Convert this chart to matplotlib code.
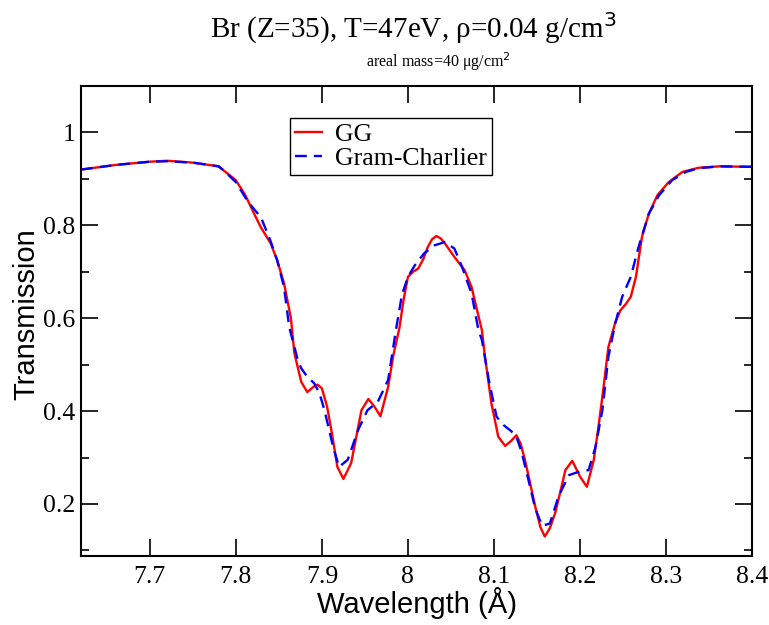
import matplotlib
matplotlib.use("Agg")
import matplotlib.pyplot as plt
from matplotlib.ticker import MultipleLocator

# GG curve
gg_x = [7.62, 7.66, 7.70, 7.72, 7.75, 7.78, 7.786, 7.80, 7.811, 7.821, 7.829,
        7.8405, 7.848, 7.856, 7.864, 7.868, 7.876, 7.883, 7.890, 7.895, 7.900,
        7.906, 7.911, 7.918, 7.925, 7.934, 7.940, 7.946, 7.954, 7.961, 7.968,
        7.977, 7.983, 7.990, 7.995, 8.000, 8.006, 8.012, 8.018, 8.023, 8.028,
        8.033, 8.038, 8.043, 8.054, 8.066, 8.074, 8.080, 8.086, 8.089, 8.097,
        8.105, 8.113, 8.120, 8.126, 8.131, 8.136, 8.142, 8.148, 8.154, 8.159,
        8.165, 8.171, 8.177, 8.183, 8.191, 8.200, 8.208, 8.216, 8.221, 8.226,
        8.233, 8.241, 8.247, 8.253, 8.259, 8.265, 8.272, 8.280, 8.290, 8.303,
        8.319, 8.338, 8.362, 8.40]
gg_y = [0.920, 0.930, 0.937, 0.939, 0.935, 0.927, 0.918, 0.897, 0.865, 0.826, 0.796,
        0.761, 0.725, 0.675, 0.600, 0.525, 0.463, 0.441, 0.452, 0.457, 0.449,
        0.410, 0.359, 0.280, 0.254, 0.288, 0.345, 0.402, 0.426, 0.410, 0.389,
        0.452, 0.520, 0.578, 0.640, 0.689, 0.700, 0.707, 0.728, 0.753, 0.770,
        0.777, 0.772, 0.761, 0.732, 0.703, 0.667, 0.620, 0.574, 0.525, 0.417,
        0.345, 0.325, 0.336, 0.348, 0.330, 0.295, 0.245, 0.194, 0.150, 0.130,
        0.148, 0.180, 0.225, 0.273, 0.293, 0.259, 0.237, 0.295, 0.360, 0.431,
        0.538, 0.591, 0.617, 0.630, 0.646, 0.689, 0.775, 0.825, 0.865, 0.893,
        0.915, 0.924, 0.927, 0.926]

# Gram-Charlier curve
gc_x = [7.62, 7.66, 7.70, 7.72, 7.75, 7.78, 7.786, 7.80, 7.813, 7.821, 7.829,
        7.84, 7.848, 7.856, 7.862, 7.872, 7.876, 7.883, 7.891, 7.897, 7.903,
        7.913, 7.920, 7.930, 7.942, 7.953, 7.965, 7.977, 7.986, 7.993, 8.000,
        8.008, 8.019, 8.031, 8.043, 8.054, 8.063, 8.074, 8.082, 8.086, 8.094,
        8.103, 8.111, 8.120, 8.126, 8.132, 8.142, 8.148, 8.156, 8.165, 8.175,
        8.187, 8.198, 8.210, 8.218, 8.226, 8.233, 8.241, 8.249, 8.259, 8.268,
        8.280, 8.292, 8.307, 8.323, 8.338, 8.362, 8.40]
gc_y = [0.920, 0.930, 0.937, 0.938, 0.935, 0.927, 0.918, 0.893, 0.854, 0.835, 0.818,
        0.768, 0.725, 0.667, 0.581, 0.510, 0.492, 0.474, 0.460, 0.440, 0.402,
        0.323, 0.280, 0.295, 0.359, 0.402, 0.420, 0.467, 0.574, 0.650, 0.689,
        0.714, 0.740, 0.757, 0.764, 0.750, 0.710, 0.653, 0.574, 0.553, 0.467,
        0.388, 0.370, 0.357, 0.345, 0.313, 0.237, 0.190, 0.153, 0.158, 0.216,
        0.262, 0.269, 0.273, 0.323, 0.402, 0.517, 0.589, 0.646, 0.689, 0.753,
        0.825, 0.865, 0.897, 0.915, 0.923, 0.927, 0.926]

x_ticks = [7.7, 7.8, 7.9, 8.0, 8.1, 8.2, 8.3, 8.4]
x_ticklabels = ["7.7", "7.8", "7.9", "8", "8.1", "8.2", "8.3", "8.4"]
y_ticks = [0.2, 0.4, 0.6, 0.8, 1.0]
y_ticklabels = ["0.2", "0.4", "0.6", "0.8", "1"]

serif = "Liberation Serif"
sans = "Liberation Sans"

fig = plt.figure(figsize=(7.69, 6.25), dpi=100)
ax = fig.add_axes([0.1053, 0.1104, 0.8727, 0.752])

ax.plot(gg_x, gg_y, color="red", lw=1.7, solid_joinstyle="round", label="GG")
ax.plot(gc_x, gc_y, color="blue", lw=1.7, dashes=(5, 3), dash_joinstyle="round",
        label="Gram-Charlier")

ax.set_xlim(7.62, 8.4)
ax.set_ylim(0.088, 1.1)
ax.yaxis.set_minor_locator(MultipleLocator(0.1))
ax.set_xticks(x_ticks)
ax.set_xticklabels(x_ticklabels)
ax.set_yticks(y_ticks)
ax.set_yticklabels(y_ticklabels)
ax.tick_params(which="both", direction="in", top=True, right=True, width=1.2)
ax.tick_params(which="major", length=12, labelsize=18.5)
ax.tick_params(axis="x", which="major", pad=7)
ax.tick_params(axis="y", which="major", pad=4)
ax.tick_params(which="minor", length=6)
for lab in ax.get_xticklabels() + ax.get_yticklabels():
    lab.set_fontfamily(serif)
for s in ax.spines.values():
    s.set_linewidth(1.5)

ax.set_xlabel("Wavelength (Å)", fontfamily=sans, fontsize=21)
ax.xaxis.set_label_coords(0.5, -0.066)
ax.xaxis.label.set_va("top")
ax.set_ylabel("Transmission", fontfamily=sans, fontsize=21)
ax.yaxis.set_label_coords(-0.060, 0.515)

fig.text(0.538, 0.939, r"Br (Z=35), T=47eV, ρ=0.04 g/cm$^3$", ha="center",
         va="baseline", fontfamily=serif, fontsize=21)
fig.text(0.57, 0.893, r"areal mass=40 μg/cm$^2$", ha="center", va="baseline",
         fontfamily=serif, fontsize=11.5)

leg = ax.legend(loc="upper left", bbox_to_anchor=(0.3115, 0.932), fancybox=False,
                framealpha=1, edgecolor="black", prop={"family": serif, "size": 18.5},
                handlelength=1.05, borderpad=0.2, labelspacing=0.05,
                handletextpad=0.5, borderaxespad=0)
leg.get_frame().set_linewidth(1.0)

fig.savefig("out.png", dpi=100)
